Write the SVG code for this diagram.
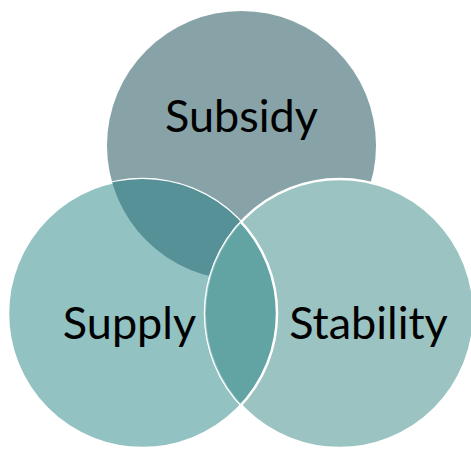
<svg xmlns="http://www.w3.org/2000/svg" width="471" height="451" viewBox="0 0 471 451">
<style>
.lbl{font-family:Lato,"Open Sans",sans-serif;font-size:45px;fill:#000;text-anchor:middle}
.edge{stroke:#fff;stroke-width:2.5}
</style>
<defs>
<clipPath id="cTop"><circle cx="241.5" cy="145.5" r="134.5"/></clipPath>
<clipPath id="cLeft"><circle cx="142.5" cy="313.5" r="134.5"/></clipPath>
<clipPath id="cRight"><circle cx="339.5" cy="313.5" r="134.5"/></clipPath>
</defs>
<rect width="471" height="451" fill="#fff"/>
<g id="subsidy">
<circle cx="241.5" cy="145.5" r="134.5" fill="#87A3A8"/>
</g>
<g id="supply">
<circle cx="142.5" cy="313.5" r="134.5" fill="#93C2C2" class="edge"/>
<circle cx="142.5" cy="313.5" r="134.5" fill="#559196" clip-path="url(#cTop)"/>
</g>
<g id="stability">
<circle cx="339.5" cy="313.5" r="134.5" fill="#9BC3C1" class="edge"/>
<circle cx="339.5" cy="313.5" r="134.5" fill="#62A3A4" stroke="#fff" stroke-opacity="0.35" stroke-width="2" clip-path="url(#cLeft)"/>
<circle cx="142.5" cy="313.5" r="134.5" fill="none" stroke="#fff" stroke-width="2.5" clip-path="url(#cRight)"/>
</g>
<g id="connectors"/>
<g id="labels">
<text class="lbl" x="241.5" y="132">Subsidy</text>
<text class="lbl" x="129.5" y="339">Supply</text>
<text class="lbl" x="368.5" y="339">Stability</text>
</g>
</svg>
